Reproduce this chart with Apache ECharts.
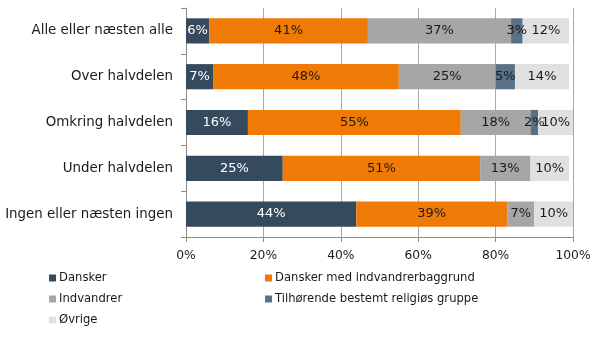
<!DOCTYPE html>
<html>
<head>
<meta charset="utf-8">
<script src="https://cdn.jsdelivr.net/npm/echarts@6/dist/echarts.min.js"></script>
<style>
  html, body { margin: 0; padding: 0; background: #fff; }
  #chart { width: 600px; height: 338px; }
</style>
</head>
<body>
<div id="chart"></div>
<script>
// Answer categories, top to bottom
const categories = [
  'Alle eller næsten alle',
  'Over halvdelen',
  'Omkring halvdelen',
  'Under halvdelen',
  'Ingen eller næsten ingen'
];
const xTicks = [0, 20, 40, 60, 80, 100];

// Shares (%) per group, same order as categories
const dansker      = [6, 7, 16, 25, 44];
const danskerIndv  = [41, 48, 55, 51, 39];
const indvandrer   = [37, 25, 18, 13, 7];
const religioes    = [3, 5, 2, 0, 0];
const oevrige      = [12, 14, 10, 10, 10];

const seriesNames = [
  'Dansker',
  'Dansker med indvandrerbaggrund',
  'Indvandrer',
  'Tilhørende bestemt religiøs gruppe',
  'Øvrige'
];
const seriesData = [dansker, danskerIndv, indvandrer, religioes, oevrige];
const colors = ['#364a5e', '#f07a06', '#a6a6a6', '#5a7185', '#e0e0e0'];
const labelColors = ['#ffffff', '#1a1a1a', '#1a1a1a', '#1a1a1a', '#1a1a1a'];

const FONT = 'DejaVu Sans';
const chart = echarts.init(document.getElementById('chart'));

const series = seriesNames.map((name, i) => ({
  name,
  type: 'bar',
  stack: 'total',
  barWidth: '55%',
  itemStyle: { color: colors[i] },
  label: {
    show: true,
    position: 'inside',
    color: labelColors[i],
    fontFamily: FONT,
    fontSize: 13,
    formatter: p => (p.value > 0 ? p.value + '%' : '')
  },
  emphasis: { disabled: true },
  data: seriesData[i].slice().reverse()
}));

// Legend entries laid out in two columns
const legendPos = [
  { left: 49, top: 272 },
  { left: 265, top: 272 },
  { left: 49, top: 293 },
  { left: 265, top: 293 },
  { left: 49, top: 314 }
];
const legends = seriesNames.map((name, i) => ({
  data: [name],
  left: legendPos[i].left,
  top: legendPos[i].top,
  orient: 'horizontal',
  icon: 'rect',
  itemWidth: 7,
  itemHeight: 7,
  padding: 0,
  selectedMode: false,
  textStyle: { fontFamily: FONT, fontSize: 11.6, color: '#1a1a1a', padding: [0, 0, 0, -2] }
}));

chart.setOption({
  animation: false,
  textStyle: { fontFamily: FONT },
  grid: { left: 186, right: 27, top: 8, bottom: 101, containLabel: false },
  xAxis: {
    type: 'value',
    min: 0,
    max: 100,
    interval: 20,
    axisLine: { show: true, lineStyle: { color: '#8c8c8c' } },
    axisTick: { show: true, length: 5, inside: false, lineStyle: { color: '#8c8c8c' } },
    splitLine: { show: true, lineStyle: { color: '#a8a8a8' } },
    axisLabel: {
      margin: 13,
      color: '#1a1a1a',
      fontFamily: FONT,
      fontSize: 12.3,
      formatter: v => (xTicks.includes(v) ? v + '%' : '')
    }
  },
  yAxis: {
    type: 'category',
    data: categories.slice().reverse(),
    axisLine: { show: true, lineStyle: { color: '#8c8c8c' } },
    axisTick: { show: true, length: 5, lineStyle: { color: '#8c8c8c' } },
    axisLabel: { margin: 13, color: '#1a1a1a', fontFamily: FONT, fontSize: 13.4 }
  },
  legend: legends,
  series
});
</script>
</body>
</html>
